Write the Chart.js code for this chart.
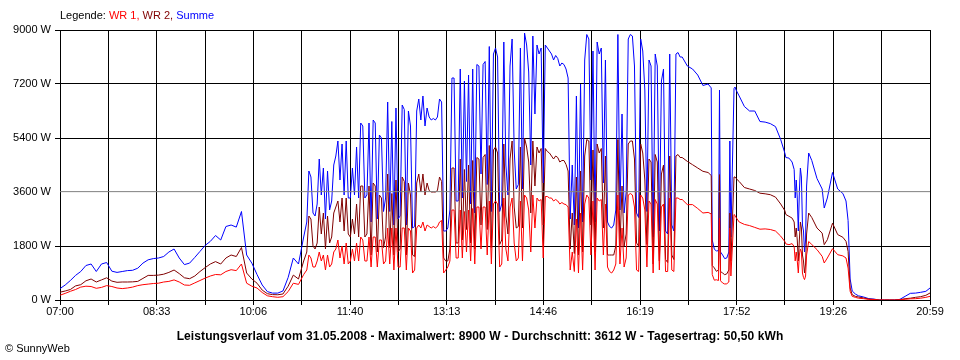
<!DOCTYPE html>
<html>
<head>
<meta charset="utf-8">
<script src="https://cdn.jsdelivr.net/npm/chart.js@4/dist/chart.umd.min.js"></script>
<style>
html,body{margin:0;padding:0;background:#fff;}
#wrap{position:relative;width:960px;height:360px;overflow:hidden;font-family:"Liberation Sans",Arial,sans-serif;color:#000;}
#c{position:absolute;left:0;top:0;}
#legend{position:absolute;left:60px;top:9px;font-size:11px;line-height:13px;white-space:nowrap;}
#title{position:absolute;left:0;width:960px;top:329px;text-align:center;font-size:12px;line-height:14px;font-weight:bold;white-space:nowrap;letter-spacing:0.1px;}
#copy{position:absolute;left:5px;top:342px;font-size:11px;line-height:13px;white-space:nowrap;}
</style>
</head>
<body>
<div id="wrap">
<canvas id="c" width="960" height="360"></canvas>
<div id="legend">Legende: <span style="color:#ff0000">WR 1,</span> <span style="color:#800000">WR 2,</span> <span style="color:#0000ff">Summe</span></div>
<div id="title">Leistungsverlauf vom 31.05.2008 - Maximalwert: 8900 W - Durchschnitt: 3612 W - Tagesertrag: 50,50 kWh</div>
<div id="copy">© SunnyWeb</div>
</div>
<script>
// minutes after 07:00
const minutes = [
0,5,10,15,20,25,30,35,40,45,50,55,60,65,70,75,80,85,90,95,100,105,110,115,120,125,130,135,140,145,150,155,160,165,170,175,180,185,190,195,200,205,210,215,220,225,230,235,
238,240,242,244,246,248,250,252,254,256,
258,260,262,264,266,268,270,272,274,276,
278,280,282,284,286,288,290,292,294,296,
298,300,302,304,306,308,310,312,314,316,
318,320,322,324,326,328,330,332,334,336,
338,340,342,344,346,348,350,352,354,356,
358,360,362,364,366,368,370,372,374,376,
378,380,382,384,386,388,390,392,394,396,
398,400,402,404,406,408,410,412,414,416,
418,420,422,424,426,428,430,432,434,436,
438,440,442,444,446,448,450,452,454,456,
458,460,462,464,466,468,470,472,474,476,
478,480,482,484,486,488,490,492,494,496,
498,500,502,504,506,508,510,512,514,516,
518,520,522,524,526,528,530,532,534,536,
538,540,542,544,546,548,550,552,554,556,
558,560,562,564,566,568,570,572,574,576,
578,580,582,584,586,588,590,592,594,596,
598,
600,605,610,615,620,625,628,629,631,633,635,636,637,639,641,643,645,646,647,650,651,652,655,660,665,670,675,680,685,690,695,699,
700,703,706,708,709,710,711,712,713,714,715,716,717,718,719,720,722,725,730,735,737,740,745,750,755,758,760,762,764,767,770,775,780,785,790,795,800,805,810,815,820,825,830,835,839
];

// Summe (W)
const summe = [
380,500,650,820,950,1150,1200,950,1200,1250,960,920,950,980,990,1060,1230,1340,1380,1400,1450,1600,1700,1400,1180,1230,1420,1620,1820,1955,2150,2000,2450,2500,2430,2950,1500,1230,850,500,280,230,230,300,750,1400,1200,2100,
2600,4300,4100,2900,2800,3200,4700,3500,4400,2700,
4300,3000,3300,4500,4800,5300,4000,5200,3500,5300,
3400,3400,4400,3500,5100,3400,5900,5800,3400,3500,
5900,2600,6000,5900,2700,5500,5400,2950,3400,6600,
2950,5950,2500,6400,2700,2800,6500,6350,2500,6300,
5800,2400,2450,6300,6700,6000,6800,5800,6400,6100,
6000,6050,6000,6100,6700,6600,2300,2300,2400,3000,
7400,7400,3300,3300,7700,3400,7300,3950,7500,3200,
7700,2900,7850,7800,4200,7850,7950,3850,8450,2950,
8200,8400,8100,2950,3200,8600,4500,3500,7800,8700,
5000,3700,3850,8400,3700,8900,8500,7600,4500,8800,
6200,8500,8200,8400,3900,8500,8400,8300,8200,8000,
8150,8050,7800,7900,7850,7700,7400,2700,4500,2500,
6800,2400,7200,2600,8000,8850,8700,4000,8300,2600,
8600,8200,8400,3900,8000,2600,2450,2400,2500,3000,
8850,3000,6200,2900,3600,8700,8850,8800,7800,2900,
2750,8700,8300,7000,2950,8000,7800,2100,8200,7800,
2300,7300,7700,2300,2200,8200,2500,2300,8200,8250,
8100,
8100,7800,7700,7500,7150,7200,7070,2000,1700,1630,1650,7000,1600,1500,1380,1400,1600,5300,2100,7050,7100,7000,6800,6450,6300,6300,5950,5930,5880,5780,5350,4900,
4750,4730,4600,4350,3400,4000,3400,2300,3600,4400,4100,2500,2300,1600,2000,3800,4900,4650,4050,3700,3066,3400,4250,3700,3550,3300,2650,700,300,200,140,100,44,30,0,0,0,0,22,122,222,230,256,289,400
];

// WR 2 (W)
const wr2 = [
260,300,350,470,510,640,700,600,670,740,630,590,600,600,605,620,720,820,820,830,860,920,1000,880,740,710,800,950,1080,1200,1280,1200,1400,1500,1450,1750,900,700,560,330,210,180,175,200,460,830,700,1300,
1600,2800,2700,1800,1700,1900,3100,2200,2900,1700,
2800,1900,2100,2900,3100,3300,2600,3400,2300,3400,
2200,2100,2700,2200,3200,2100,3800,3800,2100,2200,
3800,1500,3900,3800,1600,3500,3400,1750,2100,4200,
1750,3550,1500,4000,1600,1700,4100,3950,1500,3900,
3500,1500,1450,3900,4200,3600,4200,3500,3900,3650,
3600,3600,3600,3650,4100,3950,1400,1300,1300,1700,
4400,4400,1900,1900,4700,2000,4350,2350,4500,1900,
4650,1700,4750,4700,2500,4750,4850,2350,5150,1750,
5000,5100,4900,1850,2000,5200,2800,2200,4700,5300,
3100,2400,2450,5100,2400,5400,5100,4600,2900,5300,
3800,5100,4900,5050,2500,5050,4950,4900,4800,4700,
4800,4750,4600,4650,4650,4520,4300,1700,2900,1550,
4100,1500,4300,1600,4800,5350,5300,2500,5000,1600,
5200,4900,5050,2400,4800,1500,1500,1500,1500,1800,
5350,1800,3800,1800,2200,5200,5300,5300,4700,1900,
1800,5200,4900,4000,1850,4700,4600,1200,4850,4600,
1300,4200,4500,1350,1250,4800,1500,1350,4800,4850,
4750,
4750,4620,4510,4400,4290,4250,4150,1150,1070,955,1000,4180,950,900,844,870,1000,2900,1300,4100,4100,4050,3950,3750,3700,3650,3560,3540,3510,3430,3200,2980,
2850,2790,2730,2600,2100,2400,2000,1300,2000,2600,2400,1500,1300,900,1200,2200,2900,2750,2400,2230,1844,2010,2560,2180,2090,1955,1620,400,178,122,100,67,30,20,0,0,0,0,10,44,60,89,110,156,233
];

// WR 1 (W)
const wr1 = [
160,220,290,350,430,460,450,390,420,480,450,400,380,400,430,480,510,530,550,560,600,620,670,600,500,490,570,650,730,800,850,840,950,1010,980,1200,560,460,400,250,140,110,90,110,280,560,520,850,
1000,1500,1400,1100,1100,1300,1600,1300,1500,1000,
1500,1100,1200,1600,1700,2000,1400,1800,1200,1900,
1200,1300,1700,1300,1900,1300,2100,2000,1300,1300,
2100,1100,2100,2100,1100,2000,2000,1200,1300,2400,
1200,2400,1000,2400,1100,1100,2400,2400,1000,2400,
2300,900,1000,2400,2500,2400,2600,2300,2500,2450,
2400,2450,2400,2450,2600,2650,900,1000,1100,1300,
3000,3000,1400,1400,3000,1400,2950,1600,3000,1300,
3050,1200,3100,3100,1700,3100,3100,1500,3300,1200,
3200,3300,3200,1100,1200,3400,1700,1300,3100,3400,
1900,1300,1400,3300,1300,3500,3400,3000,1600,3500,
2400,3400,3300,3350,1400,3450,3450,3400,3400,3300,
3350,3300,3200,3250,3200,3180,3100,1000,1600,950,
2700,900,2900,1000,3200,3500,3400,1500,3300,1000,
3400,3300,3350,1500,3200,1100,950,900,1000,1200,
3500,1200,2400,1100,1400,3500,3550,3500,3100,1000,
950,3500,3400,3000,1100,3300,3200,900,3350,3200,
1000,3100,3200,950,950,3400,1000,950,3400,3400,
3350,
3350,3180,3180,3050,2900,2920,2870,850,660,675,650,2730,640,567,533,540,600,2400,800,2850,2820,2750,2600,2520,2480,2420,2360,2370,2350,2300,2130,1950,
1870,1844,1880,1780,1300,1600,1300,900,1500,1700,1600,900,750,680,800,1500,1950,1850,1680,1455,1233,1400,1710,1510,1470,1400,1066,289,122,89,60,44,20,15,0,0,0,0,10,22,40,44,60,89,122
];

const averageW = 3612;
const xTickLabels = ['07:00','08:33','10:06','11:40','13:13','14:46','16:19','17:52','19:26','20:59'];
const yTicks = [0,1800,3600,5400,7200,9000];
const spanMinutes = 839;   // 07:00 .. 20:59
const gridDivisions = 18;

const toPoints = arr => minutes.map((m, i) => ({x: m, y: arr[i]}));
const FONT = {family: '"Liberation Sans", Arial, sans-serif', size: 11};

const lineDs = (label, data, color) => ({
  label, data, borderColor: color, backgroundColor: color,
  borderWidth: 1, pointRadius: 0, tension: 0, fill: false
});

new Chart(document.getElementById('c'), {
  type: 'line',
  data: {
    datasets: [
      lineDs('Durchschnitt', [{x: 0, y: averageW}, {x: spanMinutes, y: averageW}], '#808080'),
      lineDs('WR 1', toPoints(wr1), '#ff0000'),
      lineDs('WR 2', toPoints(wr2), '#800000'),
      lineDs('Summe', toPoints(summe), '#0000ff')
    ]
  },
  options: {
    responsive: false,
    animation: false,
    events: [],
    layout: {padding: {top: 30, right: 30, left: 0, bottom: 0}},
    plugins: {legend: {display: false}, tooltip: {enabled: false}, title: {display: false}},
    scales: {
      x: {
        type: 'linear', min: 0, max: spanMinutes,
        afterBuildTicks: s => {
          const t = [];
          for (let i = 0; i <= gridDivisions; i++) t.push({value: i * spanMinutes / gridDivisions});
          s.ticks = t;
        },
        afterFit: s => { s.height = 60; },
        grid: {color: '#000', lineWidth: 1, tickLength: 5, drawTicks: true},
        border: {color: '#000', width: 1},
        ticks: {
          autoSkip: false, maxRotation: 0, minRotation: 0, color: '#000', font: FONT, padding: 0,
          callback: (v, i) => (i % 2 === 0 ? xTickLabels[i / 2] : '')
        }
      },
      y: {
        min: 0, max: 9000,
        afterBuildTicks: s => { s.ticks = yTicks.map(v => ({value: v})); },
        afterFit: s => { s.width = 60; },
        grid: {
          color: c => (c.tick && c.tick.value === 3600 ? 'rgba(0,0,0,0)' : '#000'),
          lineWidth: 1, tickLength: 5, drawTicks: true
        },
        border: {color: '#000', width: 1},
        ticks: {color: '#000', font: FONT, padding: 4, callback: v => v + ' W'}
      }
    }
  }
});
</script>
</body>
</html>
